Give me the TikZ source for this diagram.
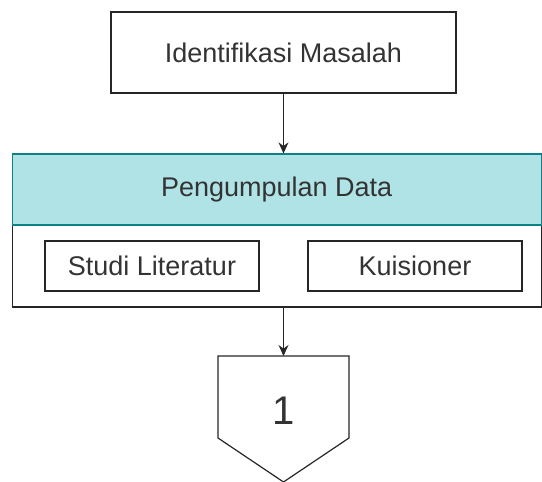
\documentclass[tikz,border=0pt]{standalone}
\usepackage{fontspec}
\setmainfont{Liberation Sans}
\usetikzlibrary{arrows.meta, positioning}
\definecolor{headfill}{RGB}{176, 227, 230}
\definecolor{headline}{RGB}{14, 128, 136}
\definecolor{textgray}{RGB}{51, 51, 51}

\tikzset{
  kotak/.style={draw=black!85, line width=1.2pt, fill=white, inner sep=0pt,
    text=textgray, font=\fontsize{27}{31}\selectfont},
  panah/.style={-{Stealth[length=11pt, width=10pt]}, line width=1.2pt, black!85}
}

\begin{document}
\begin{tikzpicture}[x=1pt, y=-1pt]

  \useasboundingbox (0,0) rectangle (542,482);

  % Langkah pertama
  \node[kotak, minimum width=345pt, minimum height=81pt] (identifikasi) at (283.5,52.5) {Identifikasi Masalah};

  % Wadah pengumpulan data dengan kepala berwarna
  \node[kotak, minimum width=529pt, minimum height=82pt] (wadah) at (276.75,266) {};
  \node[kotak, draw=headline, fill=headfill, minimum width=529pt, minimum height=71pt] (kepala) at (276.75,189.5) {Pengumpulan Data};

  % Isi wadah
  \node[kotak, minimum width=214pt, minimum height=50pt] (literatur) at (152,266) {Studi Literatur};
  \node[kotak, minimum width=214pt, minimum height=50pt] (kuisioner) at (415,266) {Kuisioner};

  % Konektor halaman berikutnya
  \coordinate (konektor) at (283.5,356);
  \draw[draw=black!85, line width=1.2pt, fill=white] (218,356) -- (349,356) -- (349,438) -- (283.5,482) -- (218,438) -- cycle;
  \node[text=textgray, font=\fontsize{40}{44}\selectfont] (nomor) at (283.5,411) {1};

  % Alur
  \draw[panah] (identifikasi.south) -- (identifikasi.south |- kepala.north);
  \draw[panah] (konektor |- wadah.south) -- (konektor);

\end{tikzpicture}
\end{document}
